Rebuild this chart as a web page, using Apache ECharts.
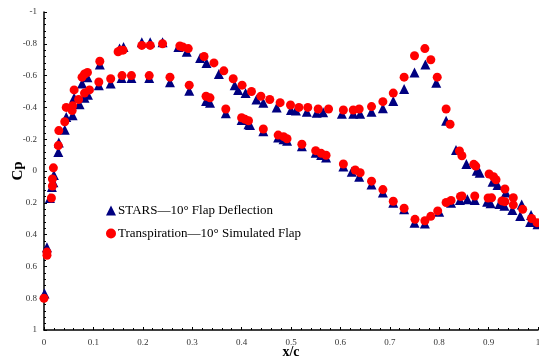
<!DOCTYPE html>
<html>
<head>
<meta charset="utf-8">
<script src="https://cdn.jsdelivr.net/npm/echarts@6/dist/echarts.min.js"></script>
<style>
  html, body { margin: 0; padding: 0; background: #fff; }
  #chart { width: 539px; height: 362px; }
</style>
</head>
<body>
<div id="chart"></div>
<script>
// Pressure coefficient along the chord, 10° flap case
const starsX = [0.001, 0.006, 0.012, 0.016, 0.019, 0.020, 0.029, 0.030, 0.042, 0.045, 0.058, 0.061, 0.072, 0.077, 0.082, 0.088, 0.089, 0.111, 0.113, 0.135, 0.153, 0.157, 0.161, 0.177, 0.198, 0.213, 0.215, 0.240, 0.255, 0.272, 0.289, 0.294, 0.316, 0.328, 0.329, 0.336, 0.354, 0.368, 0.386, 0.393, 0.400, 0.408, 0.414, 0.417, 0.430, 0.444, 0.444, 0.471, 0.474, 0.485, 0.492, 0.500, 0.510, 0.522, 0.532, 0.550, 0.552, 0.561, 0.565, 0.571, 0.603, 0.606, 0.623, 0.626, 0.638, 0.640, 0.663, 0.663, 0.686, 0.686, 0.707, 0.707, 0.729, 0.729, 0.750, 0.750, 0.772, 0.771, 0.794, 0.800, 0.814, 0.824, 0.834, 0.842, 0.855, 0.857, 0.872, 0.876, 0.882, 0.897, 0.904, 0.908, 0.918, 0.922, 0.932, 0.935, 0.948, 0.964, 0.967, 0.984, 0.986, 0.999];
const starsCp = [0.77, 0.48, 0.17, 0.10, 0.07, 0.025, -0.12, -0.18, -0.26, -0.34, -0.35, -0.46, -0.42, -0.55, -0.46, -0.59, -0.48, -0.54, -0.67, -0.55, -0.77, -0.585, -0.78, -0.585, -0.81, -0.585, -0.81, -0.81, -0.558, -0.78, -0.75, -0.505, -0.71, -0.44, -0.68, -0.43, -0.61, -0.363, -0.54, -0.51, -0.32, -0.49, -0.294, -0.29, -0.45, -0.25, -0.43, -0.40, -0.21, -0.20, -0.19, -0.384, -0.38, -0.155, -0.373, -0.115, -0.367, -0.10, -0.37, -0.085, -0.36, -0.028, 0.004, -0.36, 0.036, -0.36, -0.373, 0.085, -0.394, 0.135, -0.44, 0.20, -0.516, 0.24, -0.62, 0.325, -0.67, 0.33, -0.555, 0.256, -0.316, 0.20, -0.132, 0.182, -0.044, 0.178, 0.182, -0.002, 0.011, 0.193, 0.203, 0.067, 0.088, 0.208, 0.218, 0.136, 0.245, 0.283, 0.21, 0.32, 0.277, 0.335];

const transX = [0.000, 0.006, 0.006, 0.015, 0.017, 0.017, 0.019, 0.029, 0.030, 0.042, 0.045, 0.057, 0.058, 0.061, 0.070, 0.077, 0.082, 0.082, 0.088, 0.092, 0.111, 0.113, 0.135, 0.150, 0.155, 0.158, 0.160, 0.177, 0.198, 0.213, 0.215, 0.240, 0.255, 0.275, 0.281, 0.292, 0.294, 0.324, 0.328, 0.336, 0.344, 0.364, 0.368, 0.383, 0.400, 0.401, 0.407, 0.414, 0.420, 0.439, 0.444, 0.457, 0.474, 0.478, 0.485, 0.492, 0.499, 0.516, 0.522, 0.534, 0.550, 0.555, 0.561, 0.571, 0.576, 0.606, 0.606, 0.626, 0.630, 0.638, 0.640, 0.663, 0.663, 0.686, 0.686, 0.707, 0.707, 0.729, 0.729, 0.750, 0.751, 0.771, 0.771, 0.783, 0.783, 0.796, 0.797, 0.814, 0.814, 0.822, 0.824, 0.841, 0.843, 0.846, 0.846, 0.870, 0.872, 0.874, 0.899, 0.901, 0.906, 0.910, 0.915, 0.927, 0.933, 0.933, 0.950, 0.950, 0.969, 0.987, 0.998];
const transCp = [0.80, 0.51, 0.53, 0.17, 0.094, 0.05, -0.02, -0.16, -0.254, -0.31, -0.40, -0.38, -0.41, -0.51, -0.45, -0.59, -0.61, -0.49, -0.62, -0.51, -0.56, -0.69, -0.58, -0.75, -0.76, -0.60, -0.76, -0.60, -0.79, -0.60, -0.79, -0.80, -0.59, -0.786, -0.78, -0.77, -0.54, -0.72, -0.47, -0.46, -0.68, -0.63, -0.39, -0.58, -0.335, -0.54, -0.325, -0.316, -0.50, -0.47, -0.264, -0.45, -0.226, -0.43, -0.216, -0.203, -0.415, -0.40, -0.168, -0.40, -0.128, -0.39, -0.111, -0.099, -0.39, -0.384, -0.044, -0.384, -0.006, -0.39, 0.011, -0.405, 0.064, -0.436, 0.117, -0.49, 0.19, -0.59, 0.234, -0.725, 0.304, -0.77, 0.313, -0.70, 0.285, -0.59, 0.251, -0.39, 0.198, -0.294, 0.185, -0.126, 0.16, -0.096, 0.157, -0.042, 0.157, -0.031, 0.17, 0.019, 0.169, 0.036, 0.055, 0.188, 0.113, 0.193, 0.168, 0.213, 0.241, 0.299, 0.325];

const xTicks = [0, 0.1, 0.2, 0.3, 0.4, 0.5, 0.6, 0.7, 0.8, 0.9, 1];
const cpTicks = [-1, -0.8, -0.6, -0.4, -0.2, 0, 0.2, 0.4, 0.6, 0.8, 1];

const seriesNames = ['STARS\u201410\u00b0 Flap Deflection', 'Transpiration\u201410\u00b0 Simulated Flap'];

const pair = (xs, ys) => xs.map((x, i) => [x, ys[i]]);
const serif = '"Liberation Serif", "DejaVu Serif", serif';

const chart = echarts.init(document.getElementById('chart'));
chart.setOption({
  animation: false,
  backgroundColor: '#fff',
  grid: { left: 44, right: 1, top: 12, bottom: 32, containLabel: false, outerBoundsMode: 'none' },
  legend: {
    orient: 'vertical',
    left: 101,
    top: 199,
    itemWidth: 10,
    itemHeight: 10,
    itemGap: 10,
    textStyle: { fontFamily: serif, fontSize: 13, color: '#000', padding: [0, 0, 0, -3] },
    data: [
      { name: seriesNames[0], icon: 'triangle', itemStyle: { color: '#000080' } },
      { name: seriesNames[1], icon: 'circle', itemStyle: { color: '#ff0000' } }
    ]
  },
  xAxis: {
    type: 'value',
    min: xTicks[0],
    max: xTicks[xTicks.length - 1],
    interval: 0.1,
    name: 'x/c',
    nameLocation: 'middle',
    nameGap: 15,
    nameMoveOverlap: false,
    nameTextStyle: { fontFamily: serif, fontSize: 14, fontWeight: 'bold', color: '#000' },
    axisLine: { onZero: false, lineStyle: { color: '#000', width: 1.5 } },
    axisTick: { inside: true, length: 3, lineStyle: { color: '#000' } },
    minorTick: { show: true, splitNumber: 5, length: 2, lineStyle: { color: '#000' } },
    axisLabel: {
      fontFamily: serif, fontSize: 9, color: '#333', margin: 8,
      formatter: v => String(Math.round(v * 10) / 10)
    },
    splitLine: { show: false }
  },
  yAxis: {
    type: 'value',
    inverse: true,
    min: cpTicks[0],
    max: cpTicks[cpTicks.length - 1],
    interval: 0.2,
    name: 'Cp',
    nameLocation: 'middle',
    nameGap: 18,
    nameMoveOverlap: false,
    nameRotate: 90,
    nameTextStyle: { fontFamily: serif, fontSize: 15, fontWeight: 'bold', color: '#000' },
    axisLine: { onZero: false, lineStyle: { color: '#000', width: 1.5 } },
    axisTick: { inside: true, length: 3, lineStyle: { color: '#000' } },
    minorTick: { show: true, splitNumber: 5, length: 2, lineStyle: { color: '#000' } },
    axisLabel: {
      fontFamily: serif, fontSize: 9, color: '#333', margin: 7,
      formatter: v => String(Math.round(v * 10) / 10)
    },
    splitLine: { show: false }
  },
  series: [
    {
      name: seriesNames[0],
      type: 'scatter',
      symbol: 'triangle',
      symbolSize: 10,
      itemStyle: { color: '#000080', opacity: 1 },
      data: pair(starsX, starsCp),
      z: 2
    },
    {
      name: seriesNames[1],
      type: 'scatter',
      symbol: 'circle',
      symbolSize: 9,
      itemStyle: { color: '#ff0000', opacity: 1 },
      data: pair(transX, transCp),
      z: 3
    }
  ]
});
</script>
</body>
</html>
